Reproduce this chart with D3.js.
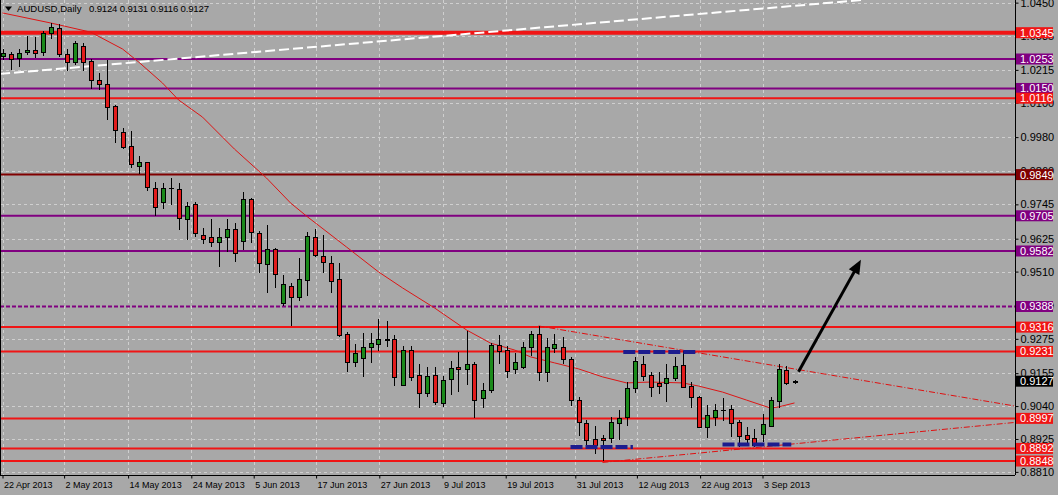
<!DOCTYPE html>
<html>
<head>
<meta charset="utf-8">
<script src="https://d3js.org/d3.v7.min.js"></script>
<style>
  html, body { margin: 0; padding: 0; background: #a8a8a8; }
  svg { display: block; font-family: "Liberation Sans", Arial, sans-serif; }
</style>
</head>
<body>
<div id="chart"></div>
<script>
// ---- daily candles, bar index 0 = 22 Apr 2013 ----
var opens = [1.0264,1.0271,1.0256,1.0278,1.0285,1.0277,1.0343,1.0360,1.0271,1.0242,
  1.0299,1.0247,1.0180,1.0166,1.0089,0.9998,0.9949,0.9880,0.9892,0.9801,
  0.9752,0.9801,0.9798,0.9693,0.9745,0.9637,0.9630,0.9612,0.9630,0.9658,
  0.9618,0.9764,0.9644,0.9536,0.9588,0.9401,0.9460,0.9422,0.9481,0.9630,
  0.9566,0.9539,0.9483,0.9292,0.9195,0.9207,0.9245,0.9257,0.9273,0.9273,
  0.9114,0.9236,0.9149,0.9085,0.9149,0.9052,0.9134,0.9176,0.9169,0.9187,
  0.9067,0.9096,0.9253,0.9236,0.9169,0.9176,0.9245,0.9292,0.9160,0.9242,
  0.9248,0.9203,0.9061,0.8980,0.8924,0.8927,0.8927,0.8982,0.9001,0.9102,
  0.9187,0.9149,0.9122,0.9120,0.9139,0.9184,0.9110,0.9073,0.8968,0.9003,
  0.9026,0.9030,0.8985,0.8939,0.8927,0.8941,0.8971,0.9059,0.9166,0.9124];
var highs = [1.0288,1.0278,1.0287,1.0333,1.0329,1.0352,1.0380,1.0375,1.0287,1.0317,
  1.0308,1.0252,1.0205,1.0250,1.0092,1.0011,1.0002,0.9914,0.9894,0.9824,
  0.9821,0.9836,0.9821,0.9754,0.9754,0.9661,0.9693,0.9663,0.9693,0.9681,
  0.9787,0.9766,0.9653,0.9673,0.9591,0.9498,0.9469,0.9556,0.9649,0.9658,
  0.9638,0.9565,0.9539,0.9300,0.9257,0.9296,0.9294,0.9343,0.9338,0.9288,
  0.9250,0.9250,0.9187,0.9176,0.9176,0.9145,0.9198,0.9230,0.9303,0.9195,
  0.9122,0.9261,0.9288,0.9250,0.9227,0.9265,0.9303,0.9320,0.9277,0.9292,
  0.9282,0.9210,0.9073,0.8991,0.8969,0.8939,0.9003,0.9026,0.9125,0.9212,
  0.9215,0.9160,0.9160,0.9187,0.9210,0.9234,0.9125,0.9076,0.9044,0.9047,
  0.9067,0.9044,0.8991,0.8968,0.8959,0.9012,0.9073,0.9186,0.9181,0.9131];
var lows = [1.0250,1.0215,1.0226,1.0267,1.0256,1.0264,1.0322,1.0259,1.0212,1.0232,
  1.0212,1.0148,1.0145,1.0040,0.9958,0.9937,0.9871,0.9850,0.9793,0.9704,
  0.9729,0.9743,0.9655,0.9620,0.9630,0.9606,0.9595,0.9525,0.9580,0.9545,
  0.9586,0.9609,0.9506,0.9434,0.9452,0.9390,0.9320,0.9408,0.9425,0.9560,
  0.9506,0.9436,0.9282,0.9160,0.9178,0.9143,0.9192,0.9234,0.9248,0.9110,
  0.9110,0.9129,0.9034,0.9071,0.9044,0.9038,0.9079,0.9090,0.9114,0.8997,
  0.9034,0.9085,0.9187,0.9137,0.9152,0.9169,0.9215,0.9129,0.9125,0.9224,
  0.9187,0.9040,0.8935,0.8904,0.8872,0.8849,0.8910,0.8921,0.8970,0.9085,
  0.9129,0.9071,0.9082,0.9055,0.9129,0.9102,0.9032,0.8966,0.8927,0.8970,
  0.8989,0.8933,0.8898,0.8910,0.8898,0.8915,0.8968,0.9034,0.9114,0.9116];
var closes = [1.0274,1.0253,1.0273,1.0285,1.0273,1.0343,1.0364,1.0271,1.0242,1.0310,
  1.0244,1.0180,1.0166,1.0086,1.0005,0.9947,0.9886,0.9893,0.9805,0.9735,
  0.9801,0.9802,0.9696,0.9740,0.9644,0.9625,0.9612,0.9630,0.9658,0.9576,
  0.9764,0.9647,0.9539,0.9588,0.9500,0.9466,0.9422,0.9484,0.9634,0.9568,
  0.9545,0.9478,0.9288,0.9195,0.9227,0.9245,0.9261,0.9275,0.9272,0.9143,
  0.9236,0.9143,0.9087,0.9145,0.9055,0.9131,0.9172,0.9169,0.9187,0.9061,
  0.9096,0.9253,0.9234,0.9164,0.9195,0.9245,0.9292,0.9160,0.9245,0.9257,
  0.9203,0.9061,0.8983,0.8921,0.8904,0.8923,0.8985,0.8997,0.9102,0.9199,
  0.9146,0.9108,0.9111,0.9139,0.9180,0.9106,0.9071,0.8968,0.9009,0.9026,
  0.9025,0.8982,0.8936,0.8925,0.8904,0.8977,0.9061,0.9170,0.9120,0.9127];

// moving average (red thin line), read at some bars
var maIdx = [0,6,11,15,17,20,22,25,29,33,36,38,43,47,50,54,58,61,64,66,69,72,75,78,81,85,87,90,93,96,97,99];
var maVals = [1.0414,1.0379,1.0347,1.0288,1.0243,1.0169,1.0110,1.0050,0.9938,0.9837,
  0.9750,0.9704,0.9596,0.9509,0.9453,0.9383,0.9306,0.9260,0.9236,0.9212,
  0.9191,0.9170,0.9142,0.9121,0.9124,0.9121,0.9110,0.9089,0.9061,0.9033,0.9037,0.9051];

// axis labels
var dateLabels = ["22 Apr 2013","2 May 2013","14 May 2013","24 May 2013","5 Jun 2013","17 Jun 2013",
  "27 Jun 2013","9 Jul 2013","19 Jul 2013","31 Jul 2013","12 Aug 2013","22 Aug 2013","3 Sep 2013"];
var dateIdx = [0,7.7,15.7,23.6,31.4,39.2,47.1,55,62.9,71.6,79.3,87.2,95];
var priceTicks = [1.0450,1.0335,1.0215,1.0100,0.9980,0.9860,0.9745,0.9625,0.9510,0.9390,0.9275,0.9155,0.9040,0.8925,0.8810];

// horizontal levels drawn on the chart
var levelVals = [1.0345,1.0253,1.0150,1.0116,0.9849,0.9705,0.9582,0.9388,0.9316,0.9231,0.8997,0.8892,0.8848];
var levelKinds = ["redThick","purple","purple","red","maroon","purple","purple","purpleDash","red","red","red","red","red"];
var lastPrice = 0.9127;
var titleText = "AUDUSD,Daily";
var titleOHLC = "0.9124 0.9131 0.9116 0.9127";

// trend lines [bar0, price0, bar1, price1]
var whiteTrend = [-0.3, 1.0201, 107.4, 1.0459];
var downTrend = [67, 0.9320, 126.6, 0.9040];
var upTrend = [75, 0.8843, 126.6, 0.8983];
// blue dashed marks [bar0, bar1, price]
var blueMarks = [[77.6, 86.8, 0.9229], [71, 78.8, 0.8897], [90, 98.6, 0.8906]];
// arrow [bar0, price0, bar1, price1]
var arrowLine = [99.5, 0.9160, 107.3, 0.9551];

var width = 1058, height = 495;
var plotR = 1015, plotB = 475;

var kindStyle = {
  redThick: {c: '#f01515', w: 4},
  red: {c: '#f01515', w: 2},
  purple: {c: '#800080', w: 2},
  purpleDash: {c: '#800080', w: 2, dash: '4,2'},
  maroon: {c: '#800000', w: 2}
};

var svg = d3.select('#chart').append('svg')
  .attr('width', width)
  .attr('height', height);

svg.append('rect').attr('width', width).attr('height', height).attr('fill', '#a8a8a8');

var x = d3.scaleLinear().domain([0, 100]).range([2.5, 802.5]);
var y = d3.scaleLinear().domain([0.87991, 1.04592]).range([plotB, 0]);

var plot = svg.append('g');

// grid
plot.selectAll('line.hgrid')
  .data(priceTicks)
  .enter().append('line')
  .attr('class', 'hgrid')
  .attr('x1', 0).attr('x2', plotR)
  .attr('y1', d => Math.round(y(d)) + 0.5).attr('y2', d => Math.round(y(d)) + 0.5)
  .attr('stroke', '#cfcfcf').attr('stroke-dasharray', '3,3');
plot.selectAll('line.vgrid')
  .data(dateIdx)
  .enter().append('line')
  .attr('class', 'vgrid')
  .attr('x1', d => Math.round(x(d)) + 0.5).attr('x2', d => Math.round(x(d)) + 0.5)
  .attr('y1', 0).attr('y2', plotB)
  .attr('stroke', '#cfcfcf').attr('stroke-dasharray', '3,3');

// level lines
plot.selectAll('line.level')
  .data(levelVals)
  .enter().append('line')
  .attr('class', 'level')
  .attr('x1', 0).attr('x2', plotR)
  .attr('y1', d => y(d)).attr('y2', d => y(d))
  .attr('stroke', (d, i) => kindStyle[levelKinds[i]].c)
  .attr('stroke-width', (d, i) => kindStyle[levelKinds[i]].w)
  .attr('stroke-dasharray', (d, i) => kindStyle[levelKinds[i]].dash || null);

// trend lines
function trend(t, color, w, dash) {
  plot.append('line')
    .attr('x1', x(t[0])).attr('y1', y(t[1]))
    .attr('x2', x(t[2])).attr('y2', y(t[3]))
    .attr('stroke', color).attr('stroke-width', w)
    .attr('stroke-dasharray', dash);
}
trend(whiteTrend, '#ffffff', 2, '10,4');
trend(downTrend, '#e01010', 1, '6,2,1,2');
trend(upTrend, '#e01010', 1, '6,2,1,2');

// moving average
var maData = maIdx.map((d, i) => [d, maVals[i]]);
plot.append('path')
  .datum(maData)
  .attr('fill', 'none')
  .attr('stroke', '#dd1515')
  .attr('stroke-width', 1)
  .attr('d', d3.line().x(d => x(d[0])).y(d => y(d[1])));

// candles
var bars = d3.range(opens.length).map(i => ({i: i, o: opens[i], h: highs[i], l: lows[i], c: closes[i]}));
var cg = plot.append('g').attr('shape-rendering', 'crispEdges');
cg.selectAll('line.wick')
  .data(bars)
  .enter().append('line')
  .attr('class', 'wick')
  .attr('x1', d => Math.round(x(d.i)) + 0.5).attr('x2', d => Math.round(x(d.i)) + 0.5)
  .attr('y1', d => y(d.h)).attr('y2', d => y(d.l))
  .attr('stroke', '#000');
cg.selectAll('rect.body')
  .data(bars)
  .enter().append('rect')
  .attr('class', 'body')
  .attr('x', d => Math.round(x(d.i)) - 2 + 0.5)
  .attr('width', 4)
  .attr('y', d => Math.round(y(Math.max(d.o, d.c))) + 0.5)
  .attr('height', d => Math.max(0.01, Math.round(y(Math.min(d.o, d.c))) - Math.round(y(Math.max(d.o, d.c)))))
  .attr('fill', d => d.c >= d.o ? '#1b8a1b' : '#e21c1c')
  .attr('stroke', '#000');

// blue dashed marks
plot.selectAll('line.blue')
  .data(blueMarks)
  .enter().append('line')
  .attr('class', 'blue')
  .attr('x1', d => x(d[0])).attr('x2', d => x(d[1]))
  .attr('y1', d => y(d[2])).attr('y2', d => y(d[2]))
  .attr('stroke', '#1c1c8e').attr('stroke-width', 4)
  .attr('stroke-dasharray', '12,3');

// arrow
var ax0 = x(arrowLine[0]), ay0 = y(arrowLine[1]), ax1 = x(arrowLine[2]), ay1 = y(arrowLine[3]);
var ang = Math.atan2(ay1 - ay0, ax1 - ax0);
var headL = 14, headW = 6;
plot.append('line')
  .attr('x1', ax0).attr('y1', ay0)
  .attr('x2', ax1 - Math.cos(ang) * headL * 0.8).attr('y2', ay1 - Math.sin(ang) * headL * 0.8)
  .attr('stroke', '#000').attr('stroke-width', 3);
var bx = ax1 - Math.cos(ang) * headL, by = ay1 - Math.sin(ang) * headL;
plot.append('path')
  .attr('d', `M${ax1},${ay1}L${bx - Math.sin(ang) * headW},${by + Math.cos(ang) * headW}L${bx + Math.sin(ang) * headW},${by - Math.cos(ang) * headW}Z`)
  .attr('fill', '#000');

// frame
svg.append('line').attr('x1', 0.5).attr('x2', 0.5).attr('y1', 0).attr('y2', plotB).attr('stroke', '#000');

// price axis
var yAxis = svg.append('g')
  .attr('transform', `translate(${plotR + 0.5},0)`)
  .call(d3.axisRight(y).tickValues(priceTicks).tickSize(3).tickPadding(2).tickFormat(d3.format('.4f')));
yAxis.select('.domain').attr('d', `M0,0V${plotB}`);
yAxis.selectAll('text').attr('font-size', 11).attr('font-family', '"Liberation Sans", Arial, sans-serif').attr('fill', '#000');

// date axis
var xAxis = svg.append('g')
  .attr('transform', `translate(0,${plotB + 0.5})`)
  .call(d3.axisBottom(x).tickValues(dateIdx).tickSize(3).tickFormat((d, i) => dateLabels[i]));
xAxis.select('.domain').attr('d', `M0,0H${plotR}`);
xAxis.selectAll('text')
  .attr('text-anchor', 'start')
  .attr('dx', 1)
  .attr('y', 6)
  .attr('font-size', 9)
  .attr('font-family', '"Liberation Sans", Arial, sans-serif')
  .attr('fill', '#000');

// level price labels on the right
var lab = svg.append('g');
var allLabels = levelVals.map((d, i) => ({v: d, c: kindStyle[levelKinds[i]].c}));
allLabels.push({v: lastPrice, c: '#000'});
lab.selectAll('rect')
  .data(allLabels)
  .enter().append('rect')
  .attr('x', plotR + 1).attr('width', 37)
  .attr('y', d => y(d.v) - 5.5).attr('height', 11)
  .attr('fill', d => d.c);
lab.selectAll('text')
  .data(allLabels)
  .enter().append('text')
  .attr('x', plotR + 5).attr('y', d => y(d.v) + 4)
  .attr('font-size', 11)
  .attr('fill', '#fff')
  .text(d => d3.format('.4f')(d.v));

// title
svg.append('path').attr('d', 'M5,6.5L12,6.5L8.5,11Z').attr('fill', '#000');
svg.append('text').attr('x', 17).attr('y', 11.5).attr('font-size', 9.6).attr('fill', '#000').text(titleText);
svg.append('text').attr('x', 89).attr('y', 11.5).attr('font-size', 9.6).attr('fill', '#000')
  .attr('textLength', 120).text(titleOHLC);
</script>
</body>
</html>
